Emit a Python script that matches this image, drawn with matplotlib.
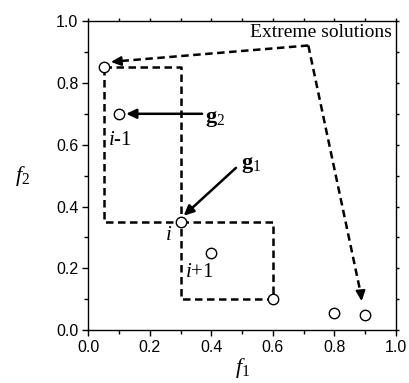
import matplotlib
matplotlib.use("Agg")
import matplotlib.pyplot as plt
from matplotlib.ticker import MultipleLocator

# Data
f1 = [0.05, 0.10, 0.30, 0.40, 0.60, 0.80, 0.90]
f2 = [0.85, 0.70, 0.35, 0.25, 0.10, 0.057, 0.05]
box_prev_x = [0.05, 0.30, 0.30, 0.05, 0.05]
box_prev_y = [0.85, 0.85, 0.35, 0.35, 0.85]
box_next_x = [0.30, 0.60, 0.60, 0.30, 0.30]
box_next_y = [0.35, 0.35, 0.10, 0.10, 0.35]
ext_corner = (0.715, 0.921)
ext_tip1 = (0.065, 0.867)
ext_tip2 = (0.889, 0.085)
g2_from, g2_to = (0.37, 0.70), (0.123, 0.70)
g1_from, g1_to = (0.48, 0.525), (0.31, 0.37)
xticks = [0.0, 0.2, 0.4, 0.6, 0.8, 1.0]
yticks = [0.0, 0.2, 0.4, 0.6, 0.8, 1.0]

serif = ['Liberation Serif', 'DejaVu Serif']
sans = ['Liberation Sans', 'DejaVu Sans']
plt.rcParams['mathtext.fontset'] = 'custom'
plt.rcParams['mathtext.rm'] = 'Liberation Serif'
plt.rcParams['mathtext.it'] = 'Liberation Serif:italic'
plt.rcParams['mathtext.bf'] = 'Liberation Serif:bold'

DASH = (0, (3, 1.8))
LW = 1.8

fig = plt.figure(figsize=(4.10, 3.83), dpi=100)
ax = fig.add_axes([0.215, 0.138, 0.751, 0.807])
ax.set_xlim(0, 1)
ax.set_ylim(0, 1)

ax.plot(box_prev_x, box_prev_y, ls=DASH, color='black', lw=LW)
ax.plot(box_next_x, box_next_y, ls=DASH, color='black', lw=LW)
ax.plot(f1, f2, ls='none', marker='o', ms=7.5, mfc='white', mec='black', mew=1.0, zorder=5)

# Extreme-solution arrows (dashed)
ax.plot([ext_corner[0], ext_tip1[0] + 0.02], [ext_corner[1], ext_tip1[1] + 0.002],
        ls=DASH, color='black', lw=LW)
ax.plot([ext_corner[0], ext_tip2[0] - 0.003], [ext_corner[1], ext_tip2[1] + 0.03],
        ls=DASH, color='black', lw=LW)
ax.annotate('', xy=ext_tip1, xytext=(ext_tip1[0] + 0.03, ext_tip1[1] + 0.0025),
            arrowprops=dict(arrowstyle='-|>,head_length=0.6,head_width=0.28', color='black', lw=1.5))
ax.annotate('', xy=ext_tip2, xytext=(ext_tip2[0] - 0.004, ext_tip2[1] + 0.04),
            arrowprops=dict(arrowstyle='-|>,head_length=0.6,head_width=0.28', color='black', lw=1.5))

# g arrows (solid)
ax.annotate('', xy=g2_to, xytext=g2_from,
            arrowprops=dict(arrowstyle='-|>,head_length=0.6,head_width=0.28', color='black', lw=1.8,
                            shrinkA=0, shrinkB=0))
ax.annotate('', xy=g1_to, xytext=g1_from,
            arrowprops=dict(arrowstyle='-|>,head_length=0.6,head_width=0.28', color='black', lw=1.8,
                            shrinkA=0, shrinkB=0))

ax.text(0.378, 0.683, r'$\mathbf{g}_2$', fontsize=16, va='center', ha='left')
ax.text(0.497, 0.533, r'$\mathbf{g}_1$', fontsize=16, va='center', ha='left')
ax.text(0.988, 0.962, 'Extreme solutions', fontsize=14, family=serif, ha='right', va='center')
ax.text(0.063, 0.612, r'$i$-1', fontsize=15, family=serif, ha='left', va='center')
ax.text(0.25, 0.305, r'$i$', fontsize=15, family=serif, ha='left', va='center')
ax.text(0.315, 0.185, r'$i$+1', fontsize=15, family=serif, ha='left', va='center')

ax.set_xticks(xticks)
ax.set_yticks(yticks)
ax.set_xticklabels([f'{v:.1f}' for v in xticks], family=sans, fontsize=11.5)
ax.set_yticklabels([f'{v:.1f}' for v in yticks], family=sans, fontsize=11.5)
ax.xaxis.set_minor_locator(MultipleLocator(0.1))
ax.yaxis.set_minor_locator(MultipleLocator(0.1))
ax.tick_params(which='major', direction='out', length=4, width=1, pad=3)
ax.tick_params(which='minor', direction='out', length=3, width=1)
ax.tick_params(which='both', top=True, right=True)
for t in ax.xaxis.get_major_ticks() + ax.xaxis.get_minor_ticks():
    t.tick2line.set_markersize(2)
for t in ax.yaxis.get_major_ticks() + ax.yaxis.get_minor_ticks():
    t.tick2line.set_markersize(2)
for s in ax.spines.values():
    s.set_linewidth(1.0)

ax.set_xlabel(r'$f_1$', fontsize=16, labelpad=1)
ax.set_ylabel(r'$f_2$', fontsize=16, rotation=0, labelpad=24, va='center')

fig.savefig('out.png', dpi=100)
